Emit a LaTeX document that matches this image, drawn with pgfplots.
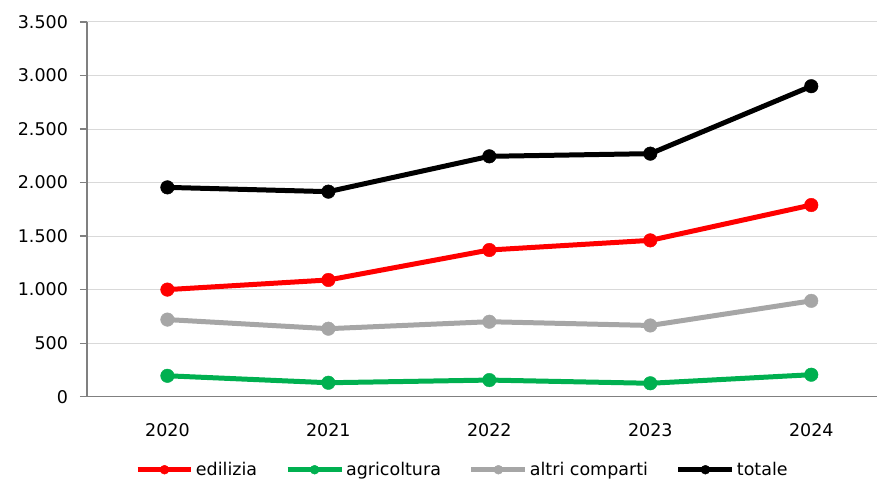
\documentclass[border=0pt]{standalone}
\usepackage{fontspec}
\setmainfont{DejaVu Sans}
\usepackage{pgfplots}
\pgfplotsset{compat=1.18}

\definecolor{cEdil}{HTML}{FF0000}
\definecolor{cAgri}{HTML}{00B050}
\definecolor{cAltri}{HTML}{A6A6A6}
\definecolor{cTot}{HTML}{000000}
\definecolor{cGrid}{HTML}{D9D9D9}
\definecolor{cAxis}{HTML}{808080}

\begin{document}
\begin{tikzpicture}
\fontsize{17.5}{21}\selectfont
\begin{axis}[
    scale only axis,
    width=791pt, height=375pt,
    xmin=-0.5, xmax=4.41,
    ymin=0, ymax=3500,
    xtick={0,1,2,3,4},
    xticklabels={2020,2021,2022,2023,2024},
    ytick={0,500,1000,1500,2000,2500,3000,3500},
    axis x line*=bottom,
    axis y line*=left,
    axis line style={cAxis, line width=1.5pt},
    x axis line style={-}, y axis line style={-},
    major x tick style={draw=none},
    major y tick style={cAxis, line width=1.2pt},
    tick align=outside,
    major tick length=7pt,
    ymajorgrids=true,
    grid style={cGrid, line width=1pt},
    yticklabel style={xshift=-6pt},
    xticklabel style={yshift=-14pt},
    /pgf/number format/.cd, 1000 sep={.}, assume math mode=true,
    /pgfplots/.cd,
    tick label style={font=\fontsize{17.5}{21}\selectfont},
    every axis plot/.append style={line width=5pt, mark=*, mark size=6.8pt},
    legend style={at={(0.475,-0.195)}, anchor=center, draw=none,
        legend columns=4, font=\fontsize{17.5}{21}\selectfont,
        nodes={inner xsep=2pt},
        /tikz/every even column/.append style={column sep=26pt}},
    legend image code/.code={
        \draw[#1, mark size=4.5pt, mark repeat=2, mark phase=2]
            plot coordinates {(0pt,0pt) (27pt,0pt) (54pt,0pt)};
    },
    clip=false,
]
\addplot[color=cEdil, mark options={fill=cEdil, draw=cEdil, line width=0.4pt}] coordinates
    {(0,1000) (1,1090) (2,1370) (3,1460) (4,1790)};
\addlegendentry{edilizia}
\addplot[color=cAgri, mark options={fill=cAgri, draw=cAgri, line width=0.4pt}] coordinates
    {(0,195) (1,130) (2,155) (3,125) (4,205)};
\addlegendentry{agricoltura}
\addplot[color=cAltri, mark options={fill=cAltri, draw=cAltri, line width=0.4pt}] coordinates
    {(0,720) (1,635) (2,700) (3,665) (4,895)};
\addlegendentry{altri comparti}
\addplot[color=cTot, mark options={fill=cTot, draw=cTot, line width=0.4pt}] coordinates
    {(0,1955) (1,1915) (2,2245) (3,2270) (4,2900)};
\addlegendentry{totale}
\end{axis}
\useasboundingbox (current axis.south west) ++(-87pt,-87pt) rectangle ([yshift=22pt]current axis.north east);
\end{tikzpicture}
\end{document}
